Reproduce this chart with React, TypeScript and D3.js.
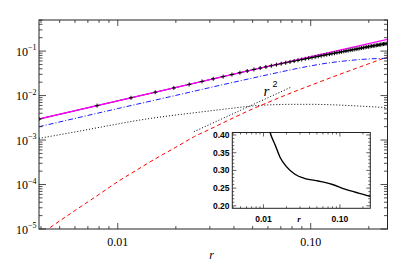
import React from 'react';
import * as d3 from 'd3';

// ---- data ----
const magentaR = [0.0039, 0.0491, 0.25];
const magentaV = [0.00297, 0.0374, 0.183];

const markerK = d3.range(1, 65); // r = k / 256
const markerV = [
  0.00297, 0.00594, 0.00891, 0.01188, 0.01484, 0.01781, 0.02078, 0.02375,
  0.02672, 0.02969, 0.03266, 0.03563, 0.0386, 0.0414, 0.0441, 0.0468,
  0.0495, 0.0521, 0.0547, 0.0573, 0.0597, 0.0622, 0.0646, 0.067,
  0.0693, 0.0716, 0.074, 0.0763, 0.0786, 0.0809, 0.0831, 0.0853,
  0.0875, 0.0897, 0.092, 0.0942, 0.0963, 0.0985, 0.1006, 0.1027,
  0.1048, 0.1069, 0.1089, 0.1109, 0.113, 0.1151, 0.1172, 0.1193,
  0.1213, 0.1234, 0.1254, 0.1274, 0.1295, 0.1312, 0.133, 0.1348,
  0.1366, 0.1385, 0.1403, 0.1421, 0.1439, 0.1457, 0.1474, 0.149,
];

const blueR = [0.0039, 0.01, 0.02, 0.03, 0.04, 0.05, 0.06, 0.07, 0.08, 0.09, 0.1, 0.11, 0.12, 0.14, 0.16, 0.18, 0.2, 0.22, 0.25];
const blueV = [0.00199, 0.0051, 0.0101, 0.0151, 0.02, 0.0248, 0.0295, 0.034, 0.0385, 0.0427, 0.0465, 0.05, 0.0532, 0.058, 0.0617, 0.0645, 0.0665, 0.0678, 0.069];

const redR = [0.0039, 0.0044, 0.006, 0.008, 0.01, 0.0125, 0.015, 0.02, 0.025, 0.03, 0.04, 0.05, 0.06, 0.08, 0.1, 0.12, 0.15, 0.2, 0.25];
const redV = [7.0e-6, 1.03e-5, 2.6e-5, 6.0e-5, 1.16e-4, 2.1e-4, 3.4e-4, 6.9e-4, 1.2e-3, 1.75e-3, 3.2e-3, 5.0e-3, 7.0e-3, 1.17e-2, 1.7e-2, 2.3e-2, 3.3e-2, 5.2e-2, 7.4e-2];

const dotR = [0.0039, 0.006, 0.008, 0.01, 0.013, 0.018, 0.0235, 0.03, 0.04, 0.05, 0.06, 0.08, 0.1, 0.13, 0.16, 0.2, 0.25];
const dotV = [0.00109, 0.00152, 0.00192, 0.0023, 0.00281, 0.00345, 0.00398, 0.00452, 0.00525, 0.00585, 0.00615, 0.00635, 0.00635, 0.0062, 0.00595, 0.00565, 0.00535];

const r2R = [0.0248, 0.0786];
const r2V = [0.00154, 0.0153];

const insetR = [0.0115, 0.0123, 0.0142, 0.0164, 0.0201, 0.0258, 0.0349, 0.0522, 0.0781, 0.1166, 0.1741, 0.25];
const insetV = [0.43, 0.405, 0.372, 0.338, 0.31, 0.289, 0.277, 0.27, 0.261, 0.247, 0.236, 0.227];

const xTicks = [0.01, 0.1];
const xTickLabels = ['0.01', '0.10'];
const yTickExp = [-5, -4, -3, -2, -1];
const insetYTicks = [0.2, 0.25, 0.3, 0.35, 0.4];

const W = 407, H = 271;
const M = { left: 39, right: 387.5, top: 20, bottom: 229 };
const IN = { left: 232.3, right: 370.3, top: 132.5, bottom: 208.3 };

const serif = '"Liberation Serif", "DejaVu Serif", serif';
const sans = '"Liberation Sans", Arial, sans-serif';

const minorLog = (lo: number, hi: number) => {
  const out: number[] = [];
  for (let e = -6; e <= 1; e++) {
    for (let m = 1; m < 10; m++) {
      const v = m * Math.pow(10, e);
      if (v >= lo * 0.999 && v <= hi * 1.001) out.push(v);
    }
  }
  return out;
};

const zip = (a: number[], b: number[]) => a.map((v, i) => [v, b[i]] as [number, number]);

const App = () => {
  const x = d3.scaleLog().domain([1 / 256, 0.25]).range([M.left, M.right]);
  const y = d3.scaleLog().domain([1e-5, 0.5]).range([M.bottom, M.top]);
  const line = d3.line<[number, number]>().x(d => x(d[0])).y(d => y(d[1]));
  const smooth = d3.line<[number, number]>().x(d => x(d[0])).y(d => y(d[1])).curve(d3.curveMonotoneX);

  const ix = d3.scaleLog().domain([1 / 256, 0.25]).range([IN.left, IN.right]);
  const iy = d3.scaleLinear().domain([0.193, 0.407]).range([IN.bottom, IN.top]);
  const iline = d3.line<[number, number]>().x(d => ix(d[0])).y(d => iy(d[1])).curve(d3.curveMonotoneX);

  const xMinor = minorLog(1 / 256, 0.25);
  const yMinor = minorLog(1e-5, 0.5);
  const markers = markerK.map((k, i) => [k / 256, markerV[i]] as [number, number]);

  const ixMinor = minorLog(1 / 256, 0.25);
  const iyMinor = d3.range(0.2, 0.4001, 0.01);

  const axisColor = '#222';

  return (
    <svg width={W} height={H} style={{ position: 'absolute', left: 0, top: 0, background: '#fff' }}>
      <defs>
        <clipPath id="main-clip">
          <rect x={M.left} y={M.top} width={M.right - M.left} height={M.bottom - M.top} />
        </clipPath>
        <clipPath id="inset-clip">
          <rect x={IN.left} y={IN.top} width={IN.right - IN.left} height={IN.bottom - IN.top} />
        </clipPath>
      </defs>

      <g clipPath="url(#main-clip)" fill="none">
        <path d={smooth(zip(dotR, dotV)) || ''} stroke="#000" strokeWidth={1} strokeDasharray="1,2" />
        <path d={line(zip(r2R, r2V)) || ''} stroke="#000" strokeWidth={1} strokeDasharray="1,2" />
        <path d={smooth(zip(redR, redV)) || ''} stroke="#ff0000" strokeWidth={1} strokeDasharray="4,3" />
        <path d={smooth(zip(blueR, blueV)) || ''} stroke="#1a1aff" strokeWidth={1} strokeDasharray="5,2,1,2" />
        <path d={line(markers) || ''} stroke="#000" strokeWidth={1} />
        <path d={line(zip(magentaR, magentaV)) || ''} stroke="#ff00ff" strokeWidth={1.3} />
        {markers.map((d, i) => (
          <path key={i} d={`M${x(d[0]) - 2},${y(d[1])}h4M${x(d[0])},${y(d[1]) - 2}v4`} stroke="#000" strokeWidth={1} />
        ))}
      </g>

      {/* r^2 label */}
      <text x={263.5} y={96} fontFamily={serif} fontStyle="italic" fontSize={15}>r</text>
      <text x={272.5} y={87} fontFamily={sans} fontSize={9}>2</text>

      {/* main frame and ticks */}
      <rect x={M.left} y={M.top} width={M.right - M.left} height={M.bottom - M.top} fill="none" stroke={axisColor} strokeWidth={1} />
      <g stroke={axisColor} strokeWidth={0.8}>
        {xMinor.map((v, i) => {
          const major = xTicks.some(t => Math.abs(t - v) < 1e-9);
          const len = major ? 6 : 3;
          return (
            <g key={i}>
              <line x1={x(v)} x2={x(v)} y1={M.bottom} y2={M.bottom - len} />
              <line x1={x(v)} x2={x(v)} y1={M.top} y2={M.top + len} />
            </g>
          );
        })}
        {yMinor.map((v, i) => {
          const major = yTickExp.some(e => Math.abs(Math.pow(10, e) - v) / v < 1e-6);
          const len = major ? 7 : 3.5;
          return (
            <g key={i}>
              <line x1={M.left} x2={M.left + len} y1={y(v)} y2={y(v)} />
              <line x1={M.right} x2={M.right - len} y1={y(v)} y2={y(v)} />
            </g>
          );
        })}
      </g>

      {xTicks.map((t, i) => (
        <text key={i} x={x(t)} y={245.5} textAnchor="middle" fontFamily={serif} fontSize={12}>{xTickLabels[i]}</text>
      ))}
      <text x={211.5} y={259} textAnchor="middle" fontFamily={serif} fontStyle="italic" fontSize={12}>r</text>

      {yTickExp.map((e, i) => (
        <text key={i} x={36.5} y={y(Math.pow(10, e)) + 4.5} textAnchor="end" fontFamily={serif} fontSize={12}>
          10<tspan dy={-5.5} fontSize={8}>{'\u2212' + Math.abs(e)}</tspan>
        </text>
      ))}

      {/* inset */}
      <rect x={IN.left} y={IN.top} width={IN.right - IN.left} height={IN.bottom - IN.top} fill="#fff" stroke={axisColor} strokeWidth={1} />
      <g clipPath="url(#inset-clip)">
        <path d={iline(zip(insetR, insetV)) || ''} fill="none" stroke="#000" strokeWidth={1.4} />
      </g>
      <g stroke={axisColor} strokeWidth={0.7}>
        {ixMinor.map((v, i) => {
          const major = xTicks.some(t => Math.abs(t - v) < 1e-9);
          const len = major ? 4 : 2;
          return (
            <g key={i}>
              <line x1={ix(v)} x2={ix(v)} y1={IN.bottom} y2={IN.bottom - len} />
              <line x1={ix(v)} x2={ix(v)} y1={IN.top} y2={IN.top + len} />
            </g>
          );
        })}
        {iyMinor.map((v, i) => {
          const major = insetYTicks.some(t => Math.abs(t - v) < 1e-6);
          const len = major ? 4 : 2;
          return (
            <g key={i}>
              <line x1={IN.left} x2={IN.left + len} y1={iy(v)} y2={iy(v)} />
              <line x1={IN.right} x2={IN.right - len} y1={iy(v)} y2={iy(v)} />
            </g>
          );
        })}
      </g>
      {insetYTicks.map((t, i) => (
        <text key={i} x={229.5} y={iy(t) + 3} textAnchor="end" fontFamily={sans} fontWeight="bold" fontSize={8.5}>{t.toFixed(2)}</text>
      ))}
      {xTicks.map((t, i) => (
        <text key={i} x={ix(t)} y={222} textAnchor="middle" fontFamily={sans} fontWeight="bold" fontSize={8.5}>{xTickLabels[i]}</text>
      ))}
      <text x={299} y={222} textAnchor="middle" fontFamily={serif} fontStyle="italic" fontWeight="bold" fontSize={9}>r</text>
    </svg>
  );
};

export default App;
